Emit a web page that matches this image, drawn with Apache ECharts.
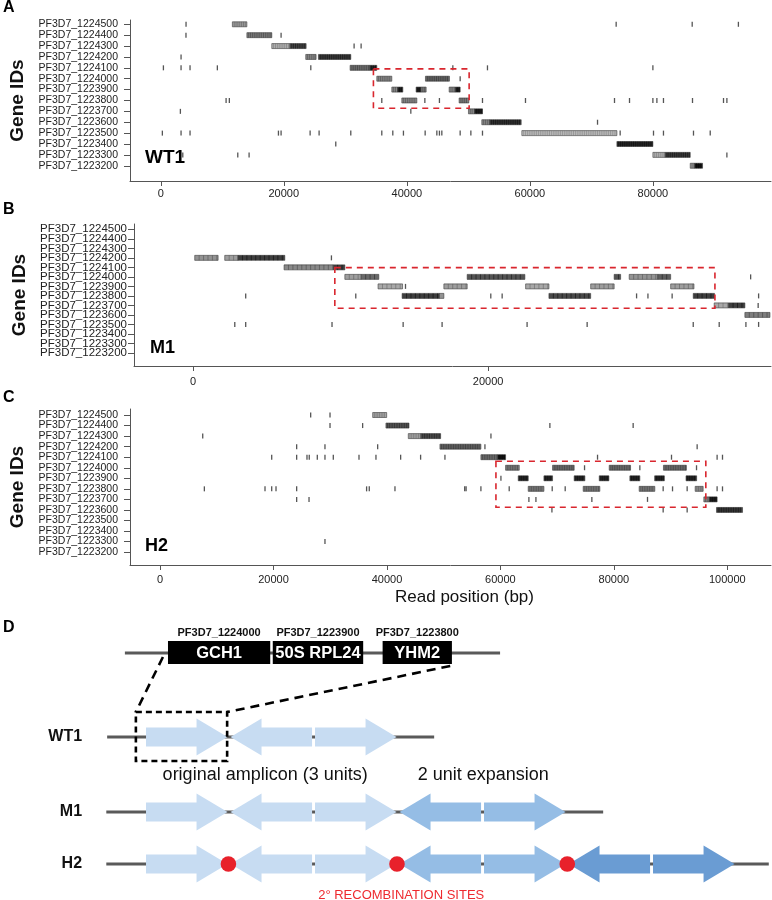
<!DOCTYPE html>
<html>
<head>
<meta charset="utf-8">
<script src="https://cdn.jsdelivr.net/npm/echarts@6/dist/echarts.min.js"></script>
<style>
html, body { margin: 0; padding: 0; background: #fff; }
#chart { width: 772px; height: 900px; }
</style>
</head>
<body>
<div id="chart"></div>
<script>
// gene rows, top to bottom
var geneIds = ['PF3D7_1224500', 'PF3D7_1224400', 'PF3D7_1224300', 'PF3D7_1224200',
	'PF3D7_1224100', 'PF3D7_1224000', 'PF3D7_1223900', 'PF3D7_1223800',
	'PF3D7_1223700', 'PF3D7_1223600', 'PF3D7_1223500', 'PF3D7_1223400',
	'PF3D7_1223300', 'PF3D7_1223200'];

// read blocks: [row, start, end, darkness 0..1]
var segsWT1 = [
	[0, 11640, 14000, 0.35], [1, 14000, 18050, 0.5],
	[2, 18050, 21000, 0.25], [2, 21000, 23630, 0.75],
	[3, 23570, 25250, 0.45], [3, 25630, 30890, 0.8],
	[4, 30780, 34000, 0.55], [4, 34000, 35120, 0.9],
	[5, 35120, 37560, 0.45], [5, 43030, 46930, 0.6],
	[6, 37560, 38500, 0.45], [6, 38500, 39350, 0.95], [6, 41510, 42300, 0.95], [6, 42300, 43140, 0.5],
	[6, 46880, 47900, 0.45], [6, 47900, 48670, 0.95],
	[7, 39190, 41630, 0.45], [7, 48500, 50080, 0.5],
	[8, 50020, 51000, 0.45], [8, 51000, 52300, 0.95],
	[9, 52190, 53500, 0.45], [9, 53500, 58590, 0.85],
	[10, 58700, 74150, 0.2],
	[11, 74150, 80000, 0.9],
	[12, 80000, 82000, 0.25], [12, 82000, 86070, 0.8],
	[13, 86070, 86800, 0.4], [13, 86800, 88070, 1]
];
// single reads: [position, row]
var ticksWT1 = [
	[4110, 0], [74030, 0], [86390, 0], [93900, 0],
	[4100, 1], [19560, 1],
	[31430, 2], [32570, 2],
	[3300, 3],
	[430, 4], [3300, 4], [4760, 4], [9200, 4], [24390, 4], [47480, 4], [53110, 4], [80000, 4],
	[48670, 5],
	[10620, 7], [11150, 7], [35930, 7], [42930, 7], [45300, 7], [52300, 7], [59290, 7], [73760, 7],
	[76200, 7], [80000, 7], [80650, 7], [81720, 7], [86440, 7], [91480, 7], [92030, 7],
	[3190, 8], [40650, 8],
	[71000, 9],
	[260, 10], [3300, 10], [4760, 10], [19130, 10], [19560, 10], [24280, 10], [25740, 10], [30890, 10],
	[35930, 10], [37720, 10], [39450, 10], [42980, 10], [44880, 10], [45300, 10], [45690, 10],
	[48670, 10], [50410, 10], [52300, 10], [74680, 10], [80100, 10], [81720, 10], [86600, 10], [89320, 10],
	[28450, 11],
	[3580, 12], [12520, 12], [14360, 12], [92030, 12]
];
// amplified region: [start, end, rowTop, rowBottom]
var boxWT1 = [[34570, 50130, 4.1, 7.72]];

var segsM1 = [
	[3, 115, 1700, 0.4], [3, 2150, 3050, 0.35], [3, 3050, 6220, 0.8],
	[4, 6170, 9500, 0.45], [4, 9500, 10290, 0.8],
	[5, 10290, 11400, 0.35], [5, 11400, 12590, 0.6], [5, 18580, 22490, 0.7], [5, 28540, 28980, 0.7],
	[5, 29560, 31500, 0.4], [5, 31500, 32370, 0.65],
	[6, 12540, 14200, 0.3], [6, 17000, 18580, 0.35], [6, 22540, 24120, 0.3], [6, 26950, 28540, 0.35],
	[6, 32370, 33950, 0.35],
	[7, 14170, 16700, 0.8], [7, 16700, 17000, 0.4], [7, 24120, 26950, 0.75], [7, 33900, 35340, 0.8],
	[8, 35320, 36300, 0.3], [8, 36300, 37400, 0.8],
	[9, 37400, 39100, 0.5]
];
var ticksM1 = [
	[9380, 3],
	[37790, 5],
	[14400, 6],
	[3570, 7], [11030, 7], [20180, 7], [20950, 7], [30060, 7], [30830, 7], [32470, 7], [38330, 7],
	[38300, 8],
	[2830, 10], [3570, 10], [9420, 10], [14240, 10], [16880, 10], [22640, 10], [26710, 10],
	[33900, 10], [35660, 10], [37470, 10], [38330, 10]
];
var boxM1 = [[9610, 35370, 4.03, 8.3]];

var segsH2 = [
	[0, 37480, 39950, 0.3],
	[1, 39820, 43880, 0.65],
	[2, 43760, 46000, 0.3], [2, 46000, 49460, 0.7],
	[3, 49340, 56560, 0.6],
	[4, 56560, 59500, 0.55], [4, 59500, 60910, 1],
	[5, 60910, 63320, 0.5], [5, 69190, 73000, 0.55], [5, 79180, 82940, 0.55], [5, 88740, 92780, 0.55],
	[6, 63140, 64900, 0.9], [6, 67670, 69190, 0.9], [6, 73000, 74890, 0.9], [6, 77420, 79120, 0.9],
	[6, 82820, 84580, 0.9], [6, 87190, 88900, 0.9], [6, 92720, 94590, 0.9],
	[7, 64900, 67670, 0.5], [7, 74590, 77530, 0.5], [7, 84460, 87220, 0.5], [7, 94330, 95740, 0.4],
	[8, 95860, 96800, 0.45], [8, 96800, 98200, 0.95],
	[9, 98090, 102680, 0.8]
];
var ticksH2 = [
	[26550, 0], [29960, 0],
	[29960, 1], [35710, 1], [68720, 1], [83400, 1],
	[7520, 2], [58330, 2],
	[24080, 3], [29070, 3], [38360, 3], [57270, 3], [94680, 3],
	[19680, 4], [24080, 4], [25900, 4], [26300, 4], [27720, 4], [29070, 4], [30540, 4], [35070, 4],
	[38060, 4], [42410, 4], [45930, 4], [50220, 4], [77120, 4], [90160, 4], [98200, 4], [99150, 4],
	[74830, 5], [84580, 5], [94570, 5],
	[60090, 6],
	[7810, 7], [18500, 7], [19680, 7], [20440, 7], [24080, 7], [36410, 7], [36880, 7], [41410, 7],
	[53700, 7], [53950, 7], [56560, 7], [61550, 7], [69130, 7], [71420, 7], [88690, 7], [90340, 7],
	[92920, 7], [98200, 7], [99150, 7],
	[24080, 8], [26260, 8], [65020, 8], [66260, 8], [76120, 8], [85930, 8],
	[69080, 9], [88690, 9], [92920, 9],
	[29070, 12]
];
var boxH2 = [[59210, 96210, 4.38, 8.75]];

var xTicksWT1 = [0, 20000, 40000, 60000, 80000];
var xTicksM1 = [0, 20000];
var xTicksH2 = [0, 20000, 40000, 60000, 80000, 100000];

// panel D schematic, x in amplicon units
var schemeGenes = ['PF3D7_1224000', 'PF3D7_1223900', 'PF3D7_1223800'];
var schemeGeneNames = ['GCH1', '50S RPL24', 'YHM2'];
var schemeGeneStart = [0.26, 1.50, 2.80];
var schemeGeneEnd = [1.47, 2.57, 3.62];
var trackNames = ['genes', 'WT1', 'M1', 'H2'];
var trackStart = [-0.25, -0.46, -0.47, -0.47];
var trackEnd = [4.19, 3.41, 5.41, 7.37];
var dirWT1 = [1, -1, 1];
var dirM1 = [1, -1, 1, -1, 1];
var dirH2 = [1, -1, 1, -1, 1, -1, 1];
var genWT1 = [0, 0, 0];
var genM1 = [0, 0, 0, 1, 1];
var genH2 = [0, 0, 0, 1, 1, 2, 2];
var recombSites = [0.975, 2.97, 4.985];

var FONT = '"Liberation Sans", Arial, sans-serif';
var unitColors = ['#c7dcf2', '#95bde5', '#6a9cd3'];
// vertical layout of the schematic (px below its grid top)
var trackY = [38, 122, 197, 249];

var rowValues = geneIds.map(function (g, i) { return i; });
var evenRows = rowValues.filter(function (v) { return v % 2 === 0; });
var oddRows = rowValues.filter(function (v) { return v % 2 === 1; });

function segmentItem(h) {
	return function (params, api) {
		var row = api.value(0);
		var p0 = api.coord([api.value(1), row]);
		var p1 = api.coord([api.value(2), row]);
		var g = api.value(3);
		var c = Math.round(232 - g * 212);
		var dc = Math.max(0, c - 75);
		var cell = api.size([300, 0])[0];
		var children = [{
			type: 'rect',
			shape: { x: p0[0], y: p0[1] - h / 2, width: p1[0] - p0[0], height: h },
			style: { fill: 'rgb(' + c + ',' + c + ',' + c + ')', stroke: '#3a3a3a', lineWidth: 0.6 }
		}];
		for (var x = p0[0] + cell; x < p1[0] - 0.6; x += cell) {
			children.push({
				type: 'line',
				shape: { x1: x, y1: p0[1] - h / 2, x2: x, y2: p0[1] + h / 2 },
				style: { stroke: 'rgb(' + dc + ',' + dc + ',' + dc + ')', lineWidth: 0.5 }
			});
		}
		return { type: 'group', children: children };
	};
}

function boxItem(params, api) {
	var p0 = api.coord([api.value(0), api.value(2)]);
	var p1 = api.coord([api.value(1), api.value(3)]);
	return {
		type: 'rect',
		shape: { x: p0[0], y: p0[1], width: p1[0] - p0[0], height: p1[1] - p0[1] },
		style: { fill: null, stroke: '#d9262e', lineWidth: 1.6, lineDash: [6, 5] }
	};
}

// x axis, y axis with even-row labels, y axis with odd-row labels
// (labels split over two axes so none gets dropped as overlapping)
function panelAxes(idx, xMin, xMax, xTicks, ySize, yMargin, xMargin, yMin, yMax, nameGap) {
	var xAxis = {
		gridIndex: idx, type: 'value', min: xMin, max: xMax,
		splitLine: { show: false },
		axisLine: { onZero: false, lineStyle: { color: '#555', width: 1 } },
		axisTick: { length: 5, customValues: xTicks, lineStyle: { color: '#555' } },
		axisLabel: {
			customValues: xTicks, margin: xMargin, fontSize: 11, fontFamily: FONT, color: '#222',
			hideOverlap: false,
			formatter: function (v) { return String(v); }
		}
	};
	function rowLabels(vals) {
		return {
			customValues: vals, margin: yMargin, fontSize: ySize, fontFamily: FONT, color: '#222',
			hideOverlap: false, showMinLabel: true, showMaxLabel: true,
			formatter: function (v) { return geneIds[Math.round(v)]; }
		};
	}
	var yEven = {
		gridIndex: idx, type: 'value', inverse: true, min: yMin, max: yMax,
		name: 'Gene IDs', nameLocation: 'middle', nameGap: nameGap,
		nameTextStyle: { fontSize: 19, fontWeight: 'bold', fontFamily: FONT, color: '#111' },
		splitLine: { show: false },
		axisLine: { show: true, onZero: false, lineStyle: { color: '#555', width: 1 } },
		axisTick: { length: 6, customValues: rowValues, lineStyle: { color: '#555' } },
		axisLabel: rowLabels(evenRows)
	};
	var yOdd = {
		gridIndex: idx, type: 'value', inverse: true, min: yMin, max: yMax, position: 'left',
		splitLine: { show: false },
		axisLine: { show: false, onZero: false },
		axisTick: { show: false },
		axisLabel: rowLabels(oddRows)
	};
	return [xAxis, yEven, yOdd];
}

function panelSeries(idx, segs, ticks, box, h) {
	return [{
		type: 'custom', xAxisIndex: idx, yAxisIndex: idx,
		renderItem: segmentItem(h), data: segs, silent: true
	}, {
		type: 'scatter', xAxisIndex: idx, yAxisIndex: idx,
		symbol: 'rect', symbolSize: [1.3, 5],
		itemStyle: { color: '#2a2a2a' }, data: ticks, silent: true
	}, {
		type: 'custom', xAxisIndex: idx, yAxisIndex: idx,
		renderItem: boxItem, data: box, silent: true, z: 5
	}];
}

var axA = panelAxes(0, -5000, 99200, xTicksWT1, 10.5, 12, 7, -0.395, 14.4, 93);
var axB = panelAxes(1, -4000, 39170, xTicksM1, 11.5, 7, 10, -0.56, 14.37, 97);
var axC = panelAxes(2, -5300, 107700, xTicksH2, 10.5, 12, 9, -0.57, 14.22, 93);
axC[0].name = 'Read position (bp)';
axC[0].nameLocation = 'middle';
axC[0].nameGap = 24;
axC[0].nameTextStyle = { fontSize: 17, fontFamily: FONT, color: '#111', padding: [0, 0, 0, 28] };

// schematic series data
var unitData = [];
function addUnits(track, dirs, gens) {
	for (var i = 0; i < dirs.length; i++) {
		unitData.push([i, i + 0.965, track, dirs[i], gens[i]]);
	}
}
addUnits(1, dirWT1, genWT1);
addUnits(2, dirM1, genM1);
addUnits(3, dirH2, genH2);

var lineData = trackNames.map(function (t, i) { return [trackStart[i], trackEnd[i], i]; });
var geneData = schemeGenes.map(function (g, i) { return [schemeGeneStart[i], schemeGeneEnd[i], 0]; });
var siteData = recombSites.map(function (x) { return [x, 3]; });

function lineItem(params, api) {
	var y = trackY[api.value(2)];
	var p0 = api.coord([api.value(0), y]);
	var p1 = api.coord([api.value(1), y]);
	return { type: 'line', shape: { x1: p0[0], y1: p0[1], x2: p1[0], y2: p1[1] },
		style: { stroke: '#5a5a5a', lineWidth: 3 } };
}

function geneItem(params, api) {
	var y = trackY[0];
	var p0 = api.coord([api.value(0), y]);
	var p1 = api.coord([api.value(1), y]);
	var i = params.dataIndex;
	return { type: 'group', children: [{
		type: 'rect', shape: { x: p0[0], y: p0[1] - 12, width: p1[0] - p0[0], height: 23 },
		style: { fill: '#000' }
	}, {
		type: 'text', x: (p0[0] + p1[0]) / 2, y: p0[1],
		style: { text: schemeGeneNames[i], fill: '#fff', font: 'bold 16.5px ' + FONT,
			align: 'center', verticalAlign: 'middle', textAlign: 'center', textVerticalAlign: 'middle' }
	}, {
		type: 'text', x: (p0[0] + p1[0]) / 2, y: p0[1] - 20,
		style: { text: schemeGenes[i], fill: '#111', font: 'bold 11px ' + FONT,
			align: 'center', verticalAlign: 'middle', textAlign: 'center', textVerticalAlign: 'middle' }
	}] };
}

function unitItem(params, api) {
	var y = trackY[api.value(2)];
	var a = api.coord([api.value(0), y]);
	var b = api.coord([api.value(1), y]);
	var dir = api.value(3);
	var hl = api.size([0.367, 0])[0];
	var bh = 9.5, hh = 18.5, yc = a[1];
	var x0 = a[0], x1 = b[0], pts;
	if (dir > 0) {
		pts = [[x0, yc - bh], [x1 - hl, yc - bh], [x1 - hl, yc - hh], [x1, yc],
			[x1 - hl, yc + hh], [x1 - hl, yc + bh], [x0, yc + bh]];
	} else {
		pts = [[x1, yc - bh], [x0 + hl, yc - bh], [x0 + hl, yc - hh], [x0, yc],
			[x0 + hl, yc + hh], [x0 + hl, yc + bh], [x1, yc + bh]];
	}
	return { type: 'polygon', shape: { points: pts }, style: { fill: unitColors[api.value(4)] } };
}

function siteItem(params, api) {
	var p = api.coord([api.value(0), trackY[api.value(1)]]);
	return { type: 'circle', shape: { cx: p[0], cy: p[1], r: 7.8 }, style: { fill: '#e8212b' } };
}

// zoom box around the first unit and its connectors to the gene track
var zoomBox = [[-0.12, 0.96, 97, 146]];
var connectors = [[0.20, 42, -0.12, 97], [3.60, 51, 0.96, 97]];

function zoomBoxItem(params, api) {
	var p0 = api.coord([api.value(0), api.value(2)]);
	var p1 = api.coord([api.value(1), api.value(3)]);
	return { type: 'rect', shape: { x: p0[0], y: p0[1], width: p1[0] - p0[0], height: p1[1] - p0[1] },
		style: { fill: null, stroke: '#000', lineWidth: 2.6, lineDash: [6, 4] } };
}

function connectorItem(params, api) {
	var p0 = api.coord([api.value(0), api.value(1)]);
	var p1 = api.coord([api.value(2), api.value(3)]);
	return { type: 'line', shape: { x1: p0[0], y1: p0[1], x2: p1[0], y2: p1[1] },
		style: { stroke: '#000', lineWidth: 2.6, lineDash: [9, 6] } };
}

var schemeTexts = ['WT1', 'M1', 'H2', 'original amplicon (3 units)', '2 unit expansion', '2\u00b0 RECOMBINATION SITES'];
var schemeTextPos = [[-0.757, 122], [-0.757, 197], [-0.757, 249], [1.41, 160], [3.99, 160], [3.02, 280]];
var schemeTextStyle = [
	['bold 16px', '#111', 'right'], ['bold 16px', '#111', 'right'], ['bold 16px', '#111', 'right'],
	['18px', '#111', 'center'], ['18px', '#111', 'center'], ['13px', '#ee2a2f', 'center']
];

function textItem(params, api) {
	var p = api.coord([api.value(0), api.value(1)]);
	var s = schemeTextStyle[params.dataIndex];
	return { type: 'text', x: p[0], y: p[1],
		style: { text: schemeTexts[params.dataIndex], fill: s[1], font: s[0] + ' ' + FONT,
			align: s[2], verticalAlign: 'middle', textAlign: s[2], textVerticalAlign: 'middle' } };
}

var chart = echarts.init(document.getElementById('chart'), null, { renderer: 'canvas' });

var letterStyle = { fontSize: 16, fontWeight: 'bold', fontFamily: FONT, color: '#000' };
var innerStyle = { fontSize: 19, fontWeight: 'bold', fontFamily: FONT, color: '#000' };

var option = {
	animation: false,
	backgroundColor: '#fff',
	title: [
		{ text: 'A', left: 3, top: 0, padding: 0, textStyle: letterStyle },
		{ text: 'B', left: 3, top: 202, padding: 0, textStyle: letterStyle },
		{ text: 'C', left: 3, top: 390, padding: 0, textStyle: letterStyle },
		{ text: 'D', left: 3, top: 620, padding: 0, textStyle: letterStyle },
		{ text: 'WT1', left: 145, top: 148, padding: 0, textStyle: innerStyle },
		{ text: 'M1', left: 150, top: 339, padding: 0, textStyle: { fontSize: 18, fontWeight: 'bold', fontFamily: FONT, color: '#000' } },
		{ text: 'H2', left: 145, top: 537, padding: 0, textStyle: { fontSize: 18, fontWeight: 'bold', fontFamily: FONT, color: '#000' } }
	],
	grid: [
		{ left: 130, top: 20, width: 641, height: 161 },
		{ left: 134, top: 224, width: 637, height: 142 },
		{ left: 130, top: 409, width: 641, height: 156 },
		{ left: 0, top: 615, width: 772, height: 285 }
	],
	xAxis: [axA[0], axB[0], axC[0],
		{ gridIndex: 3, type: 'value', min: -1.728, max: 7.408, show: false }],
	yAxis: [axA[1], axB[1], axC[1],
		{ gridIndex: 3, type: 'value', min: 0, max: 285, inverse: true, show: false },
		axA[2], axB[2], axC[2]],
	series: [].concat(
		panelSeries(0, segsWT1, ticksWT1, boxWT1, 5),
		panelSeries(1, segsM1, ticksM1, boxM1, 5),
		panelSeries(2, segsH2, ticksH2, boxH2, 5),
		[
			{ type: 'custom', xAxisIndex: 3, yAxisIndex: 3, renderItem: lineItem, data: lineData, silent: true, z: 1 },
			{ type: 'custom', xAxisIndex: 3, yAxisIndex: 3, renderItem: geneItem, data: geneData, silent: true, z: 2 },
			{ type: 'custom', xAxisIndex: 3, yAxisIndex: 3, renderItem: unitItem, data: unitData, silent: true, z: 2 },
			{ type: 'custom', xAxisIndex: 3, yAxisIndex: 3, renderItem: siteItem, data: siteData, silent: true, z: 3 },
			{ type: 'custom', xAxisIndex: 3, yAxisIndex: 3, renderItem: zoomBoxItem, data: zoomBox, silent: true, z: 4 },
			{ type: 'custom', xAxisIndex: 3, yAxisIndex: 3, renderItem: connectorItem, data: connectors, silent: true, z: 4 },
			{ type: 'custom', xAxisIndex: 3, yAxisIndex: 3, renderItem: textItem,
				data: schemeTextPos, silent: true, z: 5 }
		]
	)
};
chart.setOption(option);
</script>
</body>
</html>
